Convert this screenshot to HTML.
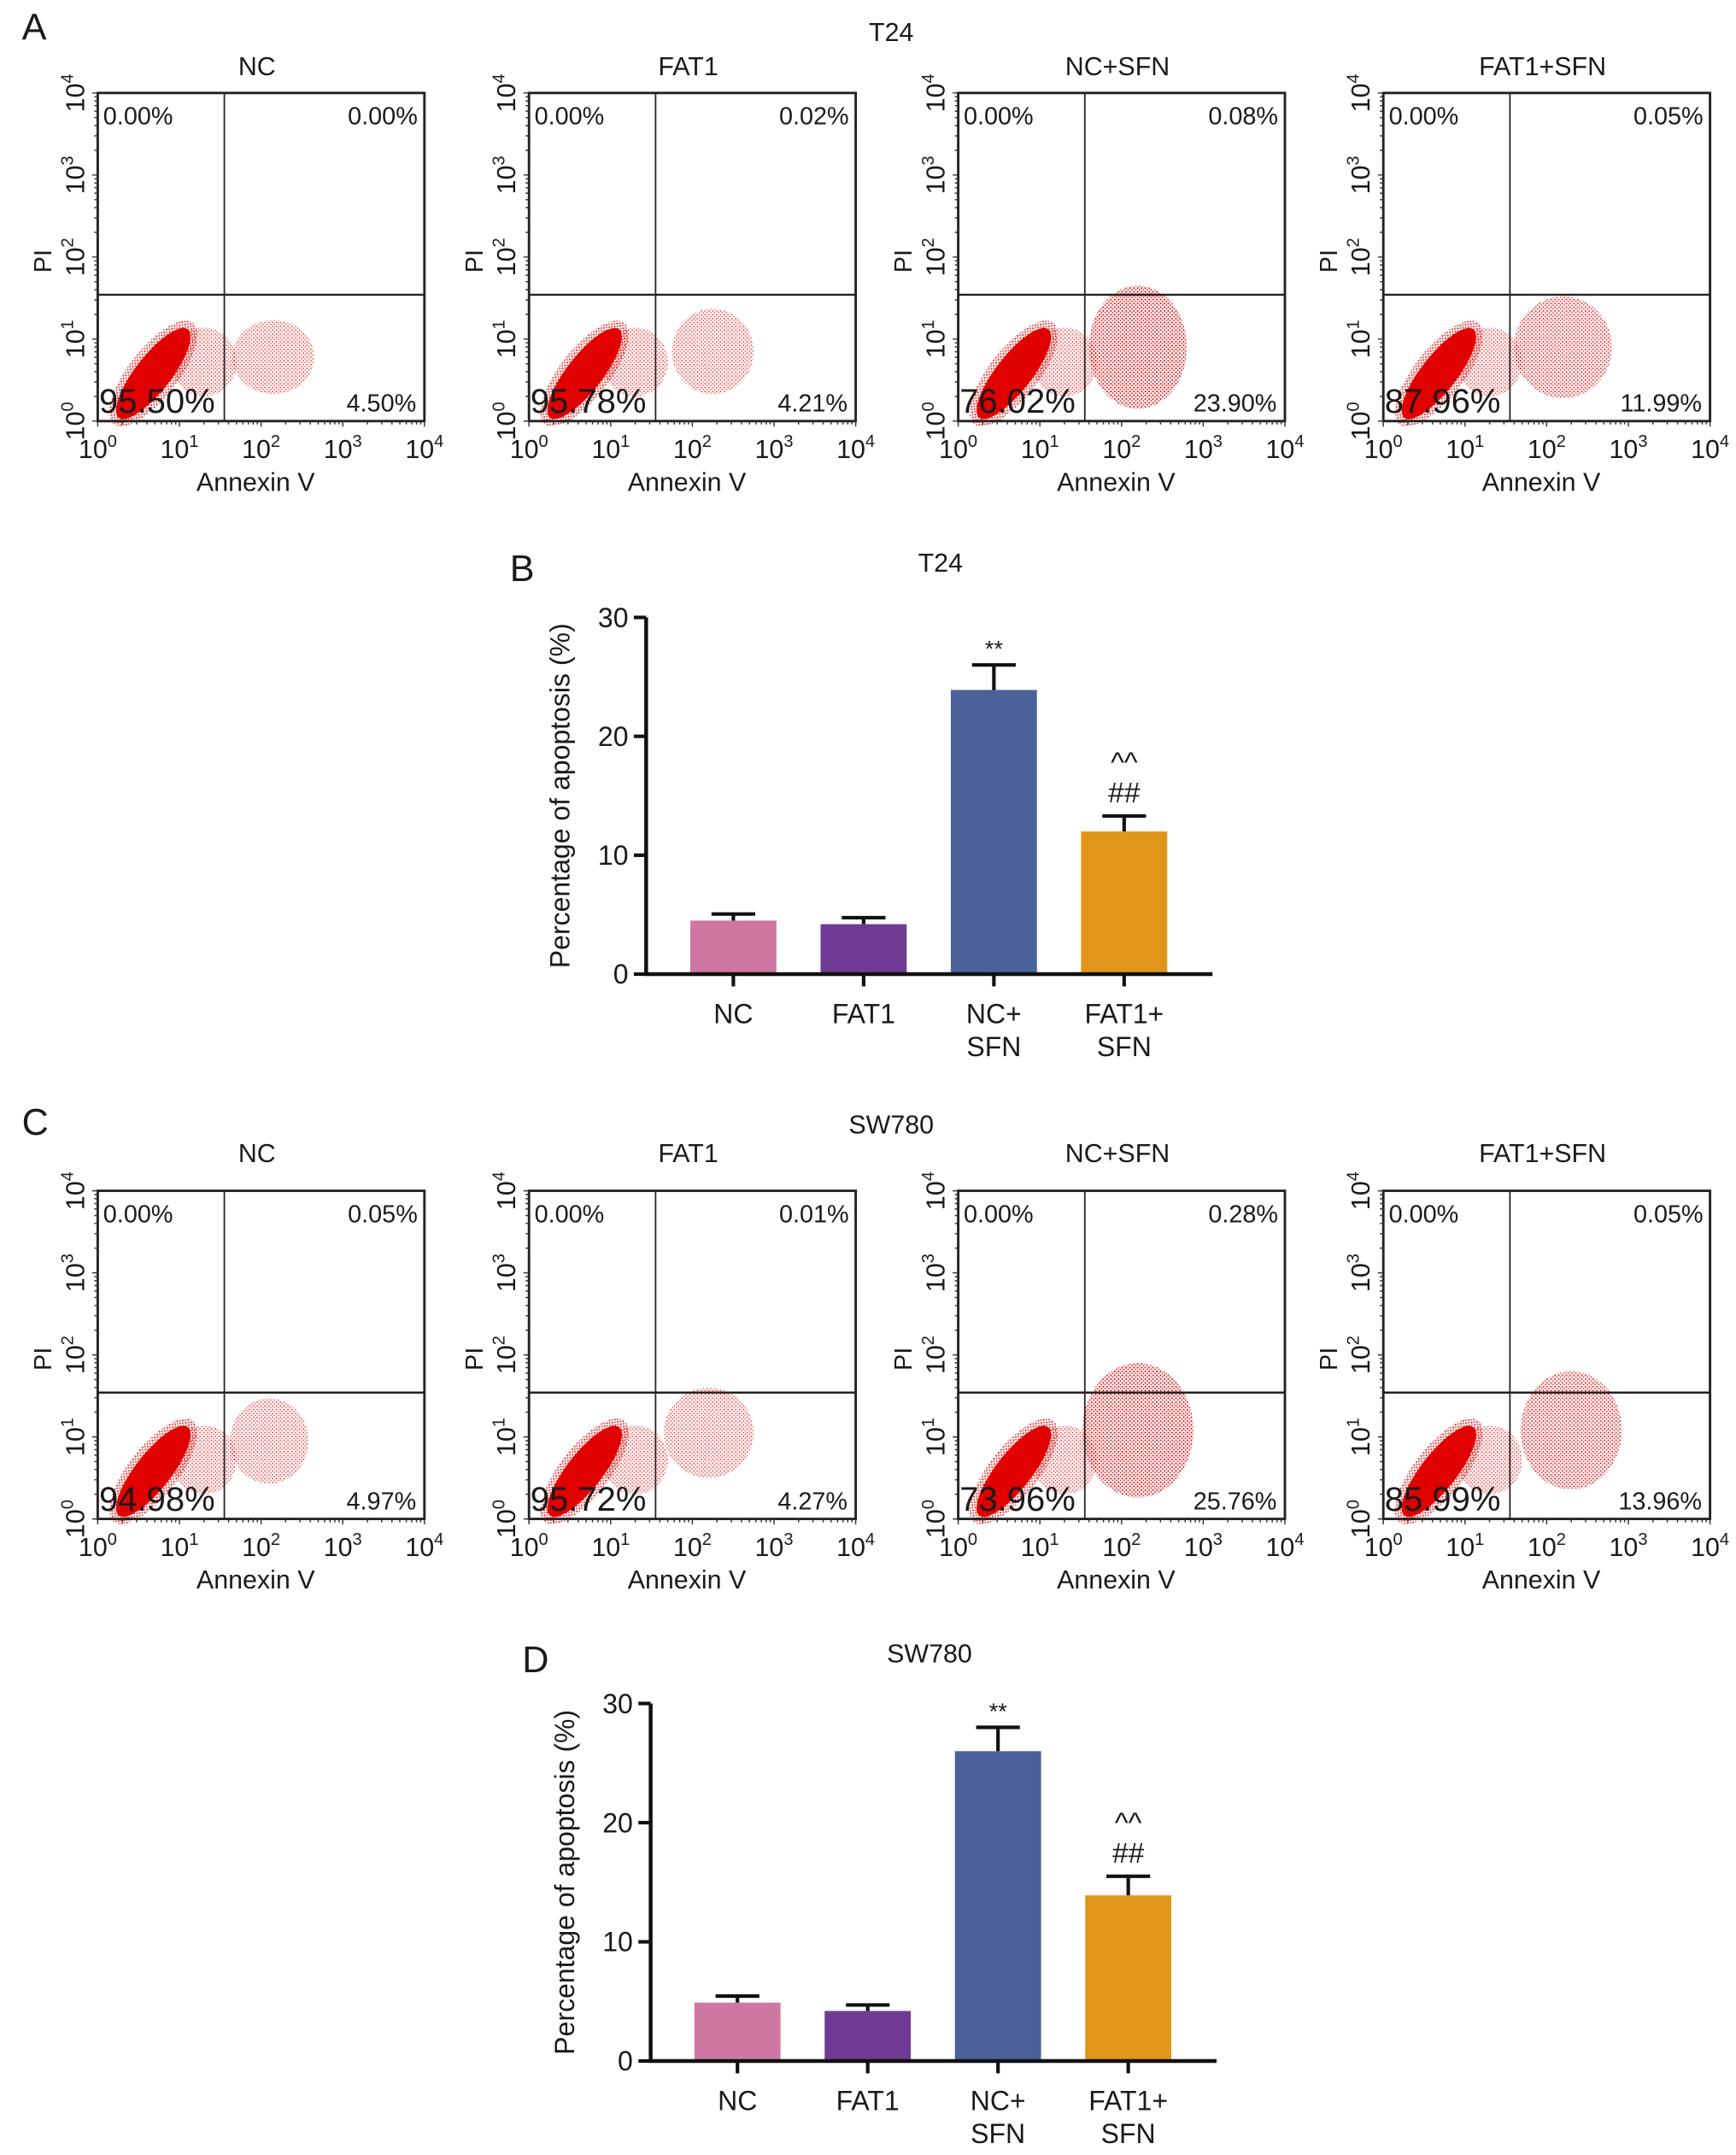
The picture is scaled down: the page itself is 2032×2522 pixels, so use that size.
<!DOCTYPE html>
<html><head><meta charset="utf-8">
<style>
html,body{margin:0;padding:0;background:#fff;}
svg{display:block;font-family:"Liberation Sans",Arial,sans-serif;}
</style></head>
<body>
<svg id="fig" width="2032" height="2522" viewBox="0 0 1270 1576.25" xmlns="http://www.w3.org/2000/svg">
<defs>
<pattern id="dots" width="2.8" height="2.8" patternUnits="userSpaceOnUse">
<circle cx="0.7" cy="0.7" r="0.7" fill="#e01010"/><circle cx="2.1" cy="2.0" r="0.6" fill="#e01010"/>
</pattern>
</defs>
<g id="root"></g>
</svg>
<script>
// ---------- data ----------
const cellLines = ["T24", "SW780"];
const groups = ["NC", "FAT1", "NC+SFN", "FAT1+SFN"];
const barLabels1 = ["NC", "FAT1", "NC+", "FAT1+"];
const barLabels2 = ["", "", "SFN", "SFN"];
const t24Values = [4.5, 4.2, 23.9, 12.0];
const t24Errors = [0.55, 0.55, 2.1, 1.3];
const sw780Values = [4.9, 4.2, 26.0, 13.9];
const sw780Errors = [0.55, 0.5, 2.0, 1.6];
const yTicks = [0, 10, 20, 30];
const barColors = ["#cd77a1", "#6f3b94", "#4a6299", "#e0961a"];
const t24Sig = [[], [], ["**"], ["##", "^^"]];
const sw780Sig = [[], [], ["**"], ["##", "^^"]];
// quadrant percentages: [UL, UR, LL, LR]
const t24Quads = [["0.00%","0.00%","95.50%","4.50%"],["0.00%","0.02%","95.78%","4.21%"],["0.00%","0.08%","76.02%","23.90%"],["0.00%","0.05%","87.96%","11.99%"]];
const sw780Quads = [["0.00%","0.05%","94.98%","4.97%"],["0.00%","0.01%","95.72%","4.27%"],["0.00%","0.28%","73.96%","25.76%"],["0.00%","0.05%","85.99%","13.96%"]];
// scatter clouds (log units: x decade center, y decade center, x spread, y spread, density)
const t24Clouds = [[2.15,0.78,0.5,0.45,0.6],[2.25,0.85,0.5,0.52,0.6],[2.2,0.9,0.6,0.75,0.9],[2.2,0.9,0.6,0.62,0.75]];
const sw780Clouds = [[2.1,0.95,0.48,0.52,0.6],[2.2,1.05,0.55,0.55,0.6],[2.2,1.08,0.68,0.82,0.9],[2.3,1.08,0.62,0.72,0.8]];
const gateX = 1.55, gateY = 1.54;

const NS = "http://www.w3.org/2000/svg";
const root = document.getElementById("root");
function mk(tag, attrs, parent, text){
  const e = document.createElementNS(NS, tag);
  for (const k in attrs) e.setAttribute(k, attrs[k]);
  if (text !== undefined) e.textContent = text;
  (parent || root).appendChild(e);
  return e;
}
function txt(x, y, s, size, parent, anchor, extra){
  const a = {x:x, y:y, "font-size":size, fill:"#1a1a1a", "text-anchor":anchor||"middle"};
  if (extra) for (const k in extra) a[k] = extra[k];
  return mk("text", a, parent, s);
}
function pow10(parent, x, y, exp, size, rotate){
  const g = mk("g", {transform:"translate("+x+","+y+")"+(rotate?" rotate(-90)":"")}, parent);
  const t = mk("text", {x:0, y:0, "font-size":size, fill:"#1a1a1a", "text-anchor":"middle"}, g);
  const a = document.createElementNS(NS, "tspan"); a.textContent = "10"; t.appendChild(a);
  const b = document.createElementNS(NS, "tspan"); b.setAttribute("dy", -size*0.42); b.setAttribute("font-size", size*0.66); b.textContent = exp; t.appendChild(b);
  return g;
}

// ---------- flow panels ----------
const boxXs = [71.5, 387, 701, 1012];
const BW = 239, BH = 240;
function flowRow(top, title, titleY, subY, quads, clouds, letter, letterY, prefix){
  const sec = mk("g", {});
  
  
  const L = txt(16, letterY, letter, 27, sec, "start");
  
  
  const T = txt(652, titleY, title, 19, sec);
  
  
  for (let i = 0; i < 4; i++){
    const bx = boxXs[i], by = top;
    const g = mk("g", {}, sec);
    
    
    const sx = d => bx + d / 4 * BW;
    const sy = d => by + BH - d / 4 * BH;
    const st = txt(bx + BW/2 - 3, subY, groups[i], 19, g);
    
    
    const c = clouds[i];
    const cl = mk("ellipse", {cx:sx(c[0]), cy:sy(c[1]), rx:c[2]/4*BW, ry:c[3]/4*BH, fill:"url(#dots)", opacity:c[4]}, g);
    
    
    const br = mk("ellipse", {cx:sx(1.3), cy:sy(0.72), rx:0.4/4*BW, ry:0.42/4*BH, fill:"url(#dots)", opacity:0.6}, g);
    
    
    const cx = sx(0.68), cy = sy(0.58);
    const bl2 = mk("ellipse", {cx:cx, cy:cy, rx:47, ry:18, fill:"url(#dots)", opacity:0.85, transform:"rotate(-52 "+cx+" "+cy+")"}, g);
    
    
    const bl = mk("ellipse", {cx:cx, cy:cy, rx:41, ry:13, fill:"#e00000", transform:"rotate(-52 "+cx+" "+cy+")"}, g);
    
    
    const r = mk("rect", {x:bx, y:by, width:BW, height:BH, fill:"none", stroke:"#222", "stroke-width":1.8}, g);
    
    
    const gv = mk("line", {x1:sx(gateX), x2:sx(gateX), y1:by, y2:by+BH, stroke:"#222", "stroke-width":1.1}, g);
    
    
    const gh = mk("line", {x1:bx, x2:bx+BW, y1:sy(gateY), y2:sy(gateY), stroke:"#222", "stroke-width":1.5}, g);
    
    
    let ticks = "";
    for (let d = 0; d < 4; d++) for (let k = 1; k <= 10; k++){
      const v = d + Math.log10(k);
      const len = k === 1 || k === 10 ? 4 : 2.5;
      ticks += "M"+sx(v)+" "+(by+BH)+"v"+len+" ";
      ticks += "M"+bx+" "+sy(v)+"h"+(-len)+" ";
    }
    const tk = mk("path", {d:ticks, stroke:"#333", "stroke-width":0.9, fill:"none"}, g);
    
    
    for (let d = 0; d <= 4; d++){
      const xl = pow10(g, sx(d), by + BH + 27, d, 19, false);
      
      
      const yl = pow10(g, bx - 10, sy(d), d, 19, true);
      
      
    }
    const xt = txt(bx + BW/2 - 4, by + BH + 51, "Annexin V", 19, g);
    
    
    const yt = txt(0, 0, "PI", 18, g, "middle", {transform:"translate("+(bx-34)+","+(by+123)+") rotate(-90)"});
    
    
    const q = quads[i];
    const q1 = txt(bx+4, by+23, q[0], 18, g, "start");
    
    
    const q2 = txt(bx+BW-5, by+23, q[1], 18, g, "end");
    
    
    const q3 = txt(bx+1, by+BH-6, q[2], 25, g, "start");
    
    
    const q4 = txt(bx+BW-6, by+BH-7, q[3], 18, g, "end");
    
    
  }
}
flowRow(68, cellLines[0], 30, 55, t24Quads, t24Clouds, "A", 29, "t24");
flowRow(871, cellLines[1], 829, 850, sw780Quads, sw780Clouds, "C", 830, "sw780");

// ---------- bar charts ----------
function barChart(axisX, y0, y30, xEnd, barX0, title, titleX, titleY, values, errors, sig, letter, lx, ly, prefix){
  const g = mk("g", {});
  
  
  const sy = v => y0 - v / 30 * (y0 - y30);
  const step = 95.3, bw = 63;
  const bxc = i => barX0 + i * step + bw/2;
  const L = txt(lx, ly, letter, 27, g, "start");
  
  
  const T = txt(titleX, titleY, title, 19, g);
  
  
  for (let i = 0; i < values.length; i++){
    const b = mk("rect", {x:bxc(i)-bw/2, y:sy(values[i]), width:bw, height:y0 - sy(values[i]), fill:barColors[i]}, g);
    
    
    const e = mk("path", {d:"M"+bxc(i)+" "+sy(values[i])+"V"+sy(values[i]+errors[i])+"M"+(bxc(i)-16)+" "+sy(values[i]+errors[i])+"h32", stroke:"#111", "stroke-width":2.6, fill:"none"}, g);
    
    
    const s = sig[i];
    for (let k = 0; k < s.length; k++){
      const base = sy(values[i]+errors[i]) - 10 - k*22;
      const st = txt(bxc(i), base + (s[k]==="**"?4:0), s[k], s[k]==="**"?17:21, g);
      
      
    }
    const t = mk("line", {x1:bxc(i), x2:bxc(i), y1:y0, y2:y0+9, stroke:"#111", "stroke-width":2.6}, g);
    
    
    const c1 = txt(bxc(i), y0+36, barLabels1[i], 20, g);
    
    
    if (barLabels2[i]){
      const c2 = txt(bxc(i), y0+60, barLabels2[i], 20, g);
      
      
    }
  }
  const ax = mk("path", {d:"M"+axisX+" "+y30+"V"+y0+"H"+xEnd, stroke:"#111", "stroke-width":2.8, fill:"none"}, g);
  
  
  for (const v of yTicks){
    const t = mk("line", {x1:axisX-9, x2:axisX, y1:sy(v), y2:sy(v), stroke:"#111", "stroke-width":2.6}, g);
    
    
    const l = txt(axisX-13, sy(v)+7, String(v), 20, g, "end");
    
    
  }
  const yl = txt(0, 0, "Percentage of apoptosis (%)", 20, g, "middle", {transform:"translate("+(axisX-56)+","+((y0+y30)/2)+") rotate(-90)"});
  
  
}
barChart(472.7, 712.5, 451.6, 887, 505, cellLines[0], 688, 418, t24Values, t24Errors, t24Sig, "B", 373, 425, "t24");
barChart(476, 1507.5, 1246, 890, 508, cellLines[1], 680, 1216, sw780Values, sw780Errors, sw780Sig, "D", 382, 1223, "sw780");
</script>
</body></html>
